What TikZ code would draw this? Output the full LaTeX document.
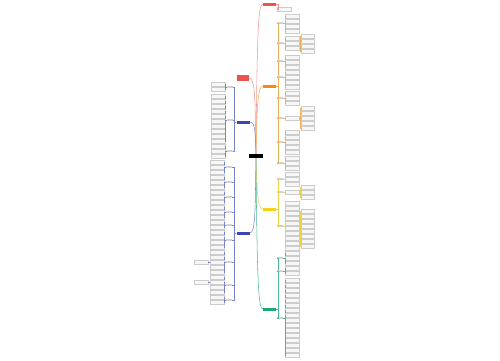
\documentclass[tikz,border=0pt]{standalone}
\usepackage{xcolor}
\usepackage{tikz}
\usetikzlibrary{positioning}
\definecolor{mapred}{RGB}{232,84,78}
\definecolor{maporange}{RGB}{240,140,30}
\definecolor{mapyellow}{RGB}{245,210,20}
\definecolor{mapgreen}{RGB}{30,170,120}
\definecolor{mapblue}{RGB}{60,70,180}
\definecolor{lnred}{RGB}{240,150,145}
\definecolor{lnorange}{RGB}{242,175,90}
\definecolor{lnyellow}{RGB}{238,210,70}
\definecolor{lngreen}{RGB}{70,185,150}
\definecolor{lnblue}{RGB}{120,130,210}

% leaves to the right / to the left of a parent node
\newcommand{\twig}[6]{\foreach \y [count=\i] in {#5} {
  \node[leaf=#4] (#2-\i) at (#3,\y) {};
  \draw[ln=#6] (#1.east) -- ++(1.5,0) |- (#2-\i.west);}}
\newcommand{\twigl}[6]{\foreach \y [count=\i] in {#5} {
  \node[leaf=#4] (#2-\i) at (#3,\y) {};
  \draw[ln=#6] (#1.west) -- ++(-1.5,0) |- (#2-\i.east);}}

\begin{document}
\begin{tikzpicture}[
  x=0.02cm,y=-0.02cm,
  topic/.style={fill=#1,minimum width=0.26cm,minimum height=0.06cm,inner sep=0pt},
  sub/.style={fill=gray!35,minimum width=0.12cm,minimum height=0.04cm,inner sep=0pt},
  leaf/.style={draw=gray!40,fill=gray!6,line width=0.2pt,minimum width=#1*0.02cm,minimum height=0.07cm,inner sep=0pt},
  ln/.style={draw=#1,line width=0.3pt},
]
\useasboundingbox (0,0) rectangle (500,360);

% central topic
\node[fill=black,minimum width=0.28cm,minimum height=0.08cm,inner sep=0pt] (root) at (256,156) {};

% main topics
\node[topic=mapred] (rt) at (269.5,4) {};
\node[topic=maporange] (ot) at (269.5,86) {};
\node[topic=mapyellow] (yt) at (269.5,209) {};
\node[topic=mapgreen] (gt) at (269.5,309) {};
\node[topic=mapred,minimum width=0.24cm,minimum height=0.13cm] (tt) at (243,78) {};
\node[topic=mapblue] (bt) at (243,122) {};
\node[topic=mapblue] (ct) at (243,233) {};

\draw[ln=lnred] (root.north) .. controls (257,40) and (258,4) .. (rt.west);
\draw[ln=lnorange] (root.north) .. controls (257,105) and (258,86) .. (ot.west);
\draw[ln=lnyellow] (root.south) .. controls (257,195) and (258,209) .. (yt.west);
\draw[ln=lngreen] (root.south) .. controls (257,270) and (258,309) .. (gt.west);
\draw[ln=lnred] (root.north) .. controls (255,110) and (256,78) .. (tt.east);
\draw[ln=lnblue] (root.north) .. controls (255,135) and (256,122) .. (bt.east);
\draw[ln=lnblue] (root.south) .. controls (255,205) and (256,233) .. (ct.east);

% red
\twig{rt}{r1}{284}{14}{9}{lnred}

% orange
\foreach \n/\y in {1/23,2/43,3/61,4/77,5/98,6/118,7/142,8/163} {
  \node[sub] (o\n) at (280,\y) {};
  \draw[ln=lnorange] (ot.east) -- ++(1.5,0) |- (o\n.west);
}
\twig{o1}{o1}{292}{14}{16,21,26,31}{lnorange}
\twig{o2}{o2}{292}{14}{38,43,48}{lnorange}
\twig{o2-2}{o2x}{308}{13}{36,41,46,51}{lnorange}
\twig{o3}{o3}{292}{14}{57,62,67}{lnorange}
\twig{o4}{o4}{292}{14}{72,77,82,87}{lnorange}
\twig{o5}{o5}{292}{14}{93,98,103}{lnorange}
\twig{o6}{o6}{292}{14}{118}{lnorange}
\twig{o6-1}{o6x}{308}{13}{108,113,118,123,128}{lnorange}
\twig{o7}{o7}{292}{14}{132,137,142,147,152}{lnorange}
\twig{o8}{o8}{292}{14}{158,163,168}{lnorange}

% yellow
\foreach \n/\y in {1/179,2/192,3/226} {
  \node[sub] (y\n) at (280,\y) {};
  \draw[ln=lnyellow] (yt.east) -- ++(1.5,0) |- (y\n.west);
}
\twig{y1}{y1}{292}{14}{174,179,184}{lnyellow}
\twig{y2}{y2}{292}{14}{192}{lnyellow}
\twig{y2-1}{y2x}{308}{13}{187,192,197}{lnyellow}
\twig{y3}{y3}{292}{14}{203,208,213,218,223,228,233,238,243,248}{lnyellow}
\twig{y3-5}{y3x}{308}{13}{211,216,221,226,231,236,241,246}{lnyellow}

% green
\foreach \n/\y in {1/258,2/271,3/318} {
  \node[sub] (g\n) at (280,\y) {};
  \draw[ln=lngreen] (gt.east) -- ++(1.5,0) |- (g\n.west);
}
\twig{g1}{g1}{292}{14}{253,258,263}{lngreen}
\twig{g2}{g2}{292}{14}{268,273}{lngreen}
\twig{g3}{g3}{292}{14}{280,285,290,295,300,305,310,315,320,325,330,335,340,345,350,355}{lngreen}

% blue, upper
\foreach \n/\y in {1/87,2/120,3/151} {
  \node[sub] (b\n) at (230,\y) {};
  \draw[ln=lnblue] (bt.west) -- ++(-1.5,0) |- (b\n.east);
}
\twigl{b1}{b1}{218}{14}{84,89}{lnblue}
\twigl{b2}{b2}{218}{14}{96,101,106,111,116,121,126,131,136,141}{lnblue}
\twigl{b3}{b3}{218}{14}{146,151,156}{lnblue}

% blue, lower
\foreach \n/\y in {1/167,2/182,3/197,4/212,5/225,6/240,7/262,8/285,9/300} {
  \node[sub] (c\n) at (229,\y) {};
  \draw[ln=lnblue] (ct.west) -- ++(-1.5,0) |- (c\n.east);
}
\twigl{c1}{c1}{217}{14}{162,167,172}{lnblue}
\twigl{c2}{c2}{217}{14}{177,182,187}{lnblue}
\twigl{c3}{c3}{217}{14}{192,197,202}{lnblue}
\twigl{c4}{c4}{217}{14}{207,212,217}{lnblue}
\twigl{c5}{c5}{217}{14}{222,227}{lnblue}
\twigl{c6}{c6}{217}{14}{232,237,242,247}{lnblue}
\twigl{c7}{c7}{217}{14}{252,257,262,267,272}{lnblue}
\twigl{c7-3}{c7x}{201}{14}{262}{lnblue}
\twigl{c8}{c8}{217}{14}{277,282,287,292}{lnblue}
\twigl{c8-2}{c8x}{201}{14}{282}{lnblue}
\twigl{c9}{c9}{217}{14}{297,302}{lnblue}
\end{tikzpicture}
\end{document}
